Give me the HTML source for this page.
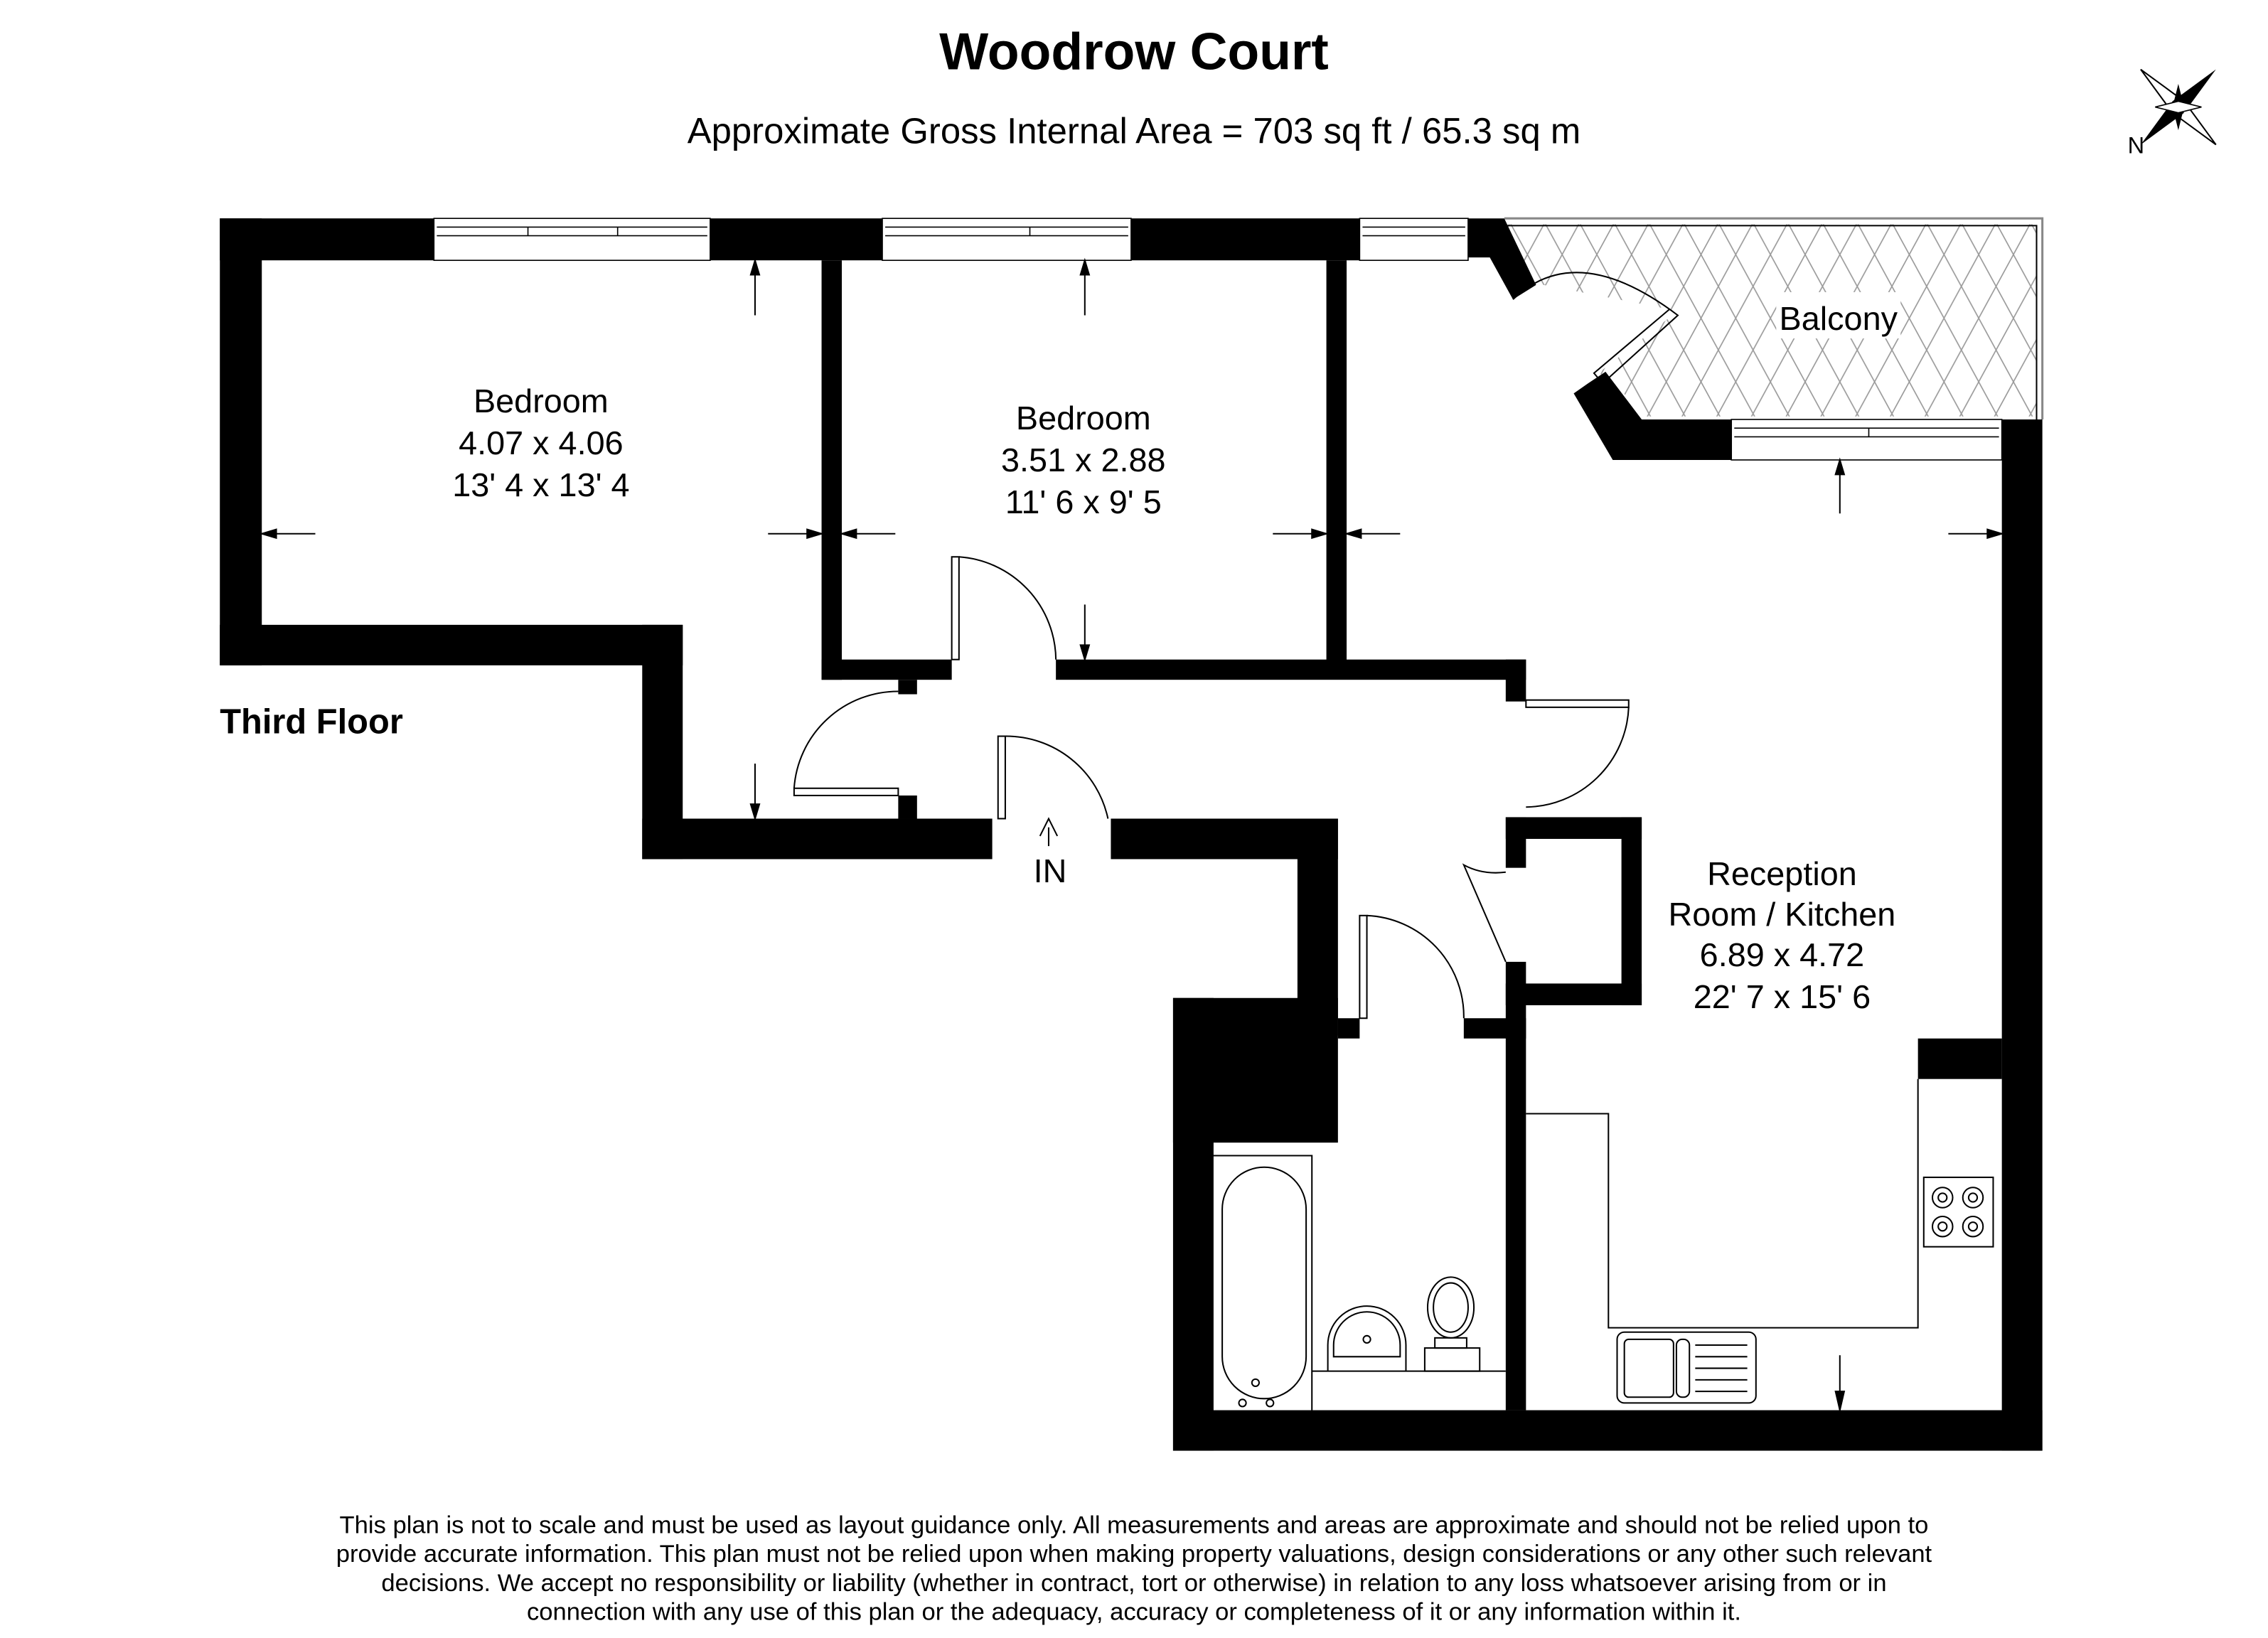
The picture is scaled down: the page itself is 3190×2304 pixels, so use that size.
<!DOCTYPE html>
<html><head><meta charset="utf-8"><style>
html,body{margin:0;padding:0;background:#fff}
svg{display:block}
text{font-family:"Liberation Sans",Arial,sans-serif;fill:#000}
</style></head><body>
<svg width="3190" height="2304" viewBox="0 0 1568 1132.5" preserveAspectRatio="none" xmlns="http://www.w3.org/2000/svg">
<defs>
<pattern id="h" width="24" height="44" patternUnits="userSpaceOnUse">
<path d="M0 0 L24 44 M24 0 L0 44" stroke="#999" stroke-width="0.8" fill="none"/>
</pattern>
<clipPath id="bc"><polygon points="1040,155 1408,155 1408,288 1135,288 1115,262 1105,258 1160,215 1062,196"/></clipPath>
</defs>
<rect width="1568" height="1133" fill="#fff"/>
<text x="784" y="48" font-size="36" font-weight="bold" text-anchor="middle">Woodrow Court</text>
<text x="784" y="99" font-size="25" text-anchor="middle">Approximate Gross Internal Area = 703 sq ft / 65.3 sq m</text>
<g transform="translate(1506,74)">
<polygon points="-26,-26 4,-4 -4,4" fill="#fff" stroke="#000"/>
<polygon points="26,-26 4,4 -4,-4" fill="#000"/>
<polygon points="26,26 -4,4 4,-4" fill="#fff" stroke="#000"/>
<polygon points="-26,26 -4,-4 4,4" fill="#000"/>
<polygon points="0,-16 4,0 0,16 -4,0" fill="#000"/>
<polygon points="-16,0 0,4 16,0 0,-4" fill="#fff" stroke="#000" stroke-width="0.8"/>
</g>
<text x="1471" y="106" font-size="16">N</text>

<rect x="1040" y="151" width="372" height="140" fill="url(#h)" clip-path="url(#bc)"/>
<path d="M1040 151 H1412 V290" stroke="#888" stroke-width="1.5" fill="none"/>
<path d="M1040 156 H1408 V290" stroke="#000" stroke-width="1" fill="none"/>
<rect x="1228" y="202" width="86" height="32" fill="#fff"/>
<text x="1271" y="228" font-size="23" text-anchor="middle">Balcony</text>

<g fill="#000">
<rect x="152" y="151" width="148" height="29"/>
<rect x="491" y="151" width="119" height="29"/>
<rect x="782" y="151" width="158" height="29"/>
<rect x="152" y="151" width="29" height="309"/>
<rect x="152" y="432" width="320" height="28"/>
<rect x="444" y="432" width="28" height="162"/>
<rect x="444" y="566" width="242" height="28"/>
<rect x="768" y="566" width="157" height="28"/>
<rect x="897" y="566" width="28" height="150"/>
<rect x="811" y="690" width="114" height="100"/>
<rect x="925" y="704" width="15" height="14"/>
<rect x="811" y="690" width="28" height="313"/>
<rect x="811" y="975" width="601" height="28"/>
<rect x="1384" y="290" width="28" height="713"/>
<rect x="1326" y="718" width="58" height="28"/>
<rect x="568" y="180" width="14" height="290"/>
<rect x="568" y="456" width="90" height="14"/>
<rect x="730" y="456" width="325" height="14"/>
<rect x="917" y="180" width="14" height="280"/>
<rect x="1041" y="456" width="14" height="29"/>
<rect x="621" y="470" width="13" height="10"/>
<rect x="621" y="550" width="13" height="16"/>
<rect x="1041" y="565" width="94" height="15"/>
<rect x="1121" y="565" width="14" height="130"/>
<rect x="1041" y="680" width="94" height="15"/>
<rect x="1041" y="565" width="14" height="35"/>
<rect x="1041" y="665" width="14" height="310"/>
<rect x="1012" y="704" width="43" height="14"/>
<polygon points="1015,151 1040,151 1062,197 1046,207 1030,178 1015,178"/>
<polygon points="1098,265 1110,257 1135,290 1197,290 1197,318 1115,318 1088,272"/>
</g>
<g fill="none" stroke="#000" stroke-width="0.8">
<rect x="300" y="151" width="191" height="29"/><path d="M302 157 H489 M302 163 H489 M365 157 V163 M427 157 V163"/>
<rect x="610" y="151" width="172" height="29"/><path d="M612 157 H780 M612 163 H780 M712 157 V163"/>
<rect x="940" y="151" width="75" height="29"/><path d="M942 157 H1013 M942 163 H1013"/>
<rect x="1197" y="290" width="187" height="28"/><path d="M1199 296 H1382 M1199 302 H1382 M1292 296 V302"/>
</g>
<g fill="none" stroke="#000" stroke-width="1">
<rect x="658" y="385" width="5" height="71"/><path d="M663 385 A72 72 0 0 1 730 456"/>
<rect x="549" y="545" width="72" height="5"/><path d="M549 545 A72 72 0 0 1 621 478"/>
<rect x="690" y="509" width="5" height="57"/><path d="M695 509 A72 72 0 0 1 766 566"/>
<rect x="1055" y="484" width="71" height="5"/><path d="M1126 489 A72 72 0 0 1 1055 558"/>
<path d="M1041 603 Q1025 605 1012 598 L1041 665"/>
<rect x="940" y="633" width="5" height="71"/><path d="M945 633 A70 70 0 0 1 1012 704"/>
<path d="M1046 207 Q1090 165 1160 218 L1108 265 L1102 258 L1154 214"/>
<path d="M725 585 V572 M719 578 L725 566 L731 578"/>
</g>
<text x="726" y="610" font-size="23" text-anchor="middle">IN</text>
<g stroke="#000" stroke-width="1" fill="#000">
<path d="M522 180 V218"/><polygon points="519,190 525,190 522,180"/>
<path d="M750 180 V218"/><polygon points="747,190 753,190 750,180"/>
<path d="M1272 318 V355"/><polygon points="1269,328 1275,328 1272,318"/>
<path d="M181 369 H218"/><polygon points="191,366 191,372 181,369"/>
<path d="M531 369 H568"/><polygon points="558,366 558,372 568,369"/>
<path d="M582 369 H619"/><polygon points="592,366 592,372 582,369"/>
<path d="M880 369 H917"/><polygon points="907,366 907,372 917,369"/>
<path d="M931 369 H968"/><polygon points="941,366 941,372 931,369"/>
<path d="M1347 369 H1384"/><polygon points="1374,366 1374,372 1384,369"/>
<path d="M750 418 V456"/><polygon points="747,446 753,446 750,456"/>
<path d="M522 528 V566"/><polygon points="519,556 525,556 522,566"/>
<path d="M1272 937 V975"/><polygon points="1269,962 1275,962 1272,975"/>
</g>
<g fill="none" stroke="#000" stroke-width="1">
<path d="M1055 770 H1112 V918 H1326 V746"/>
<rect x="1330" y="814" width="48" height="48"/>
<circle cx="1343" cy="828" r="7"/><circle cx="1343" cy="828" r="3"/>
<circle cx="1364" cy="828" r="7"/><circle cx="1364" cy="828" r="3"/>
<circle cx="1343" cy="848" r="7"/><circle cx="1343" cy="848" r="3"/>
<circle cx="1364" cy="848" r="7"/><circle cx="1364" cy="848" r="3"/>
<rect x="1118" y="921" width="96" height="49" rx="5"/>
<rect x="1123" y="926" width="34" height="40" rx="3"/>
<rect x="1159" y="926" width="9" height="40" rx="4"/>
<path d="M1172 930 H1208 M1172 938 H1208 M1172 946 H1208 M1172 954 H1208 M1172 962 H1208"/>
<path d="M838 799 H907 V975 M907 948 H1041"/>
<rect x="845" y="807" width="58" height="160" rx="29"/>
<circle cx="868" cy="956" r="2.5"/><circle cx="859" cy="970" r="2.5"/><circle cx="878" cy="970" r="2.5"/>
<path d="M918 948 V930 A27 27 0 0 1 972 930 V948"/>
<path d="M922 938 V930 A23 23 0 0 1 968 930 V938 Z"/>
<circle cx="945" cy="926" r="2.5"/>
<rect x="985" y="932" width="38" height="16"/><rect x="992" y="925" width="22" height="7"/>
<ellipse cx="1003" cy="904" rx="16" ry="21"/><ellipse cx="1003" cy="904" rx="12" ry="17"/>
</g>
<g font-size="23" text-anchor="middle">
<text x="374" y="285">Bedroom</text><text x="374" y="314">4.07 x 4.06</text><text x="374" y="343">13' 4 x 13' 4</text>
<text x="749" y="297">Bedroom</text><text x="749" y="326">3.51 x 2.88</text><text x="749" y="355">11' 6 x 9' 5</text>
<text x="1232" y="612">Reception</text><text x="1232" y="640">Room / Kitchen</text><text x="1232" y="668">6.89 x 4.72</text><text x="1232" y="697">22' 7 x 15' 6</text>
</g>
<text x="152" y="507" font-size="24" font-weight="bold">Third Floor</text>
<g font-size="17" text-anchor="middle">
<text x="784" y="1060">This plan is not to scale and must be used as layout guidance only. All measurements and areas are approximate and should not be relied upon to</text>
<text x="784" y="1080">provide accurate information. This plan must not be relied upon when making property valuations, design considerations or any other such relevant</text>
<text x="784" y="1100">decisions. We accept no responsibility or liability (whether in contract, tort or otherwise) in relation to any loss whatsoever arising from or in</text>
<text x="784" y="1120">connection with any use of this plan or the adequacy, accuracy or completeness of it or any information within it.</text>
</g>
</svg>
</body></html>
